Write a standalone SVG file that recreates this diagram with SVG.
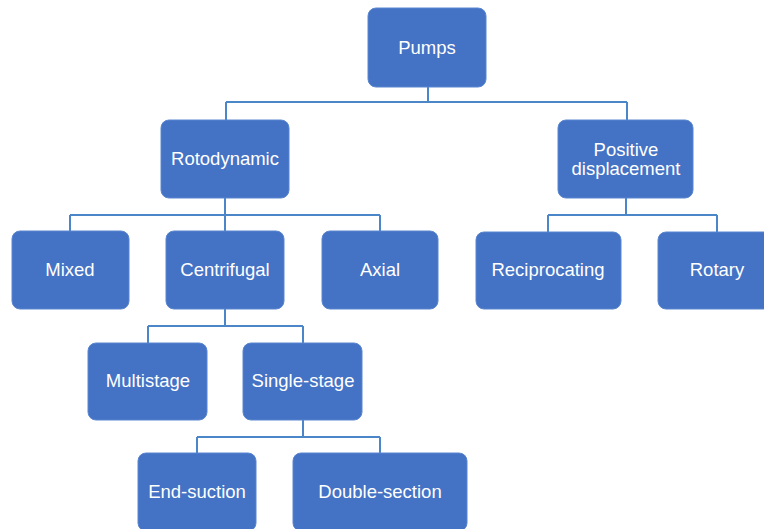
<svg xmlns="http://www.w3.org/2000/svg" width="764" height="529" viewBox="0 0 764 529">
<style>
.n rect{fill:#4472C4;stroke:#5a86d0;stroke-width:1}
.n text{fill:#ffffff;font-family:"Liberation Sans",Arial,sans-serif;font-size:18.5px;text-anchor:middle;dominant-baseline:central}
.c path{fill:none;stroke:#4A86C8;stroke-width:2}
</style>
<rect width="764" height="529" fill="#ffffff"/>
<g class="c" id="connectors">
<path d="M428 87V102M226 102H627M226 102V120M627 102V120"/>
<path d="M225 198V215M70 215H380M70 215V231M225 215V231M380 215V231"/>
<path d="M626 198V215M548 215H717M548 215V232M717 215V232"/>
<path d="M225 309V326M148 326H303M148 326V343M303 326V343"/>
<path d="M303 420V437M197 437H380M197 437V453M380 437V453"/>
</g>
<g class="n" id="pumps"><rect x="368" y="8" width="118" height="79" rx="8"/><text x="427" y="47">Pumps</text></g>
<g class="n" id="rotodynamic"><rect x="161" y="120" width="128" height="78" rx="8"/><text x="225" y="158">Rotodynamic</text></g>
<g class="n" id="positive"><rect x="558" y="120" width="135" height="78" rx="8"/><text x="626" y="149">Positive</text><text x="626" y="168">displacement</text></g>
<g class="n" id="mixed"><rect x="12" y="231" width="117" height="78" rx="8"/><text x="70" y="269">Mixed</text></g>
<g class="n" id="centrifugal"><rect x="166" y="231" width="118" height="78" rx="8"/><text x="225" y="269">Centrifugal</text></g>
<g class="n" id="axial"><rect x="322" y="231" width="116" height="78" rx="8"/><text x="380" y="269">Axial</text></g>
<g class="n" id="reciprocating"><rect x="476" y="232" width="145" height="77" rx="8"/><text x="548" y="269">Reciprocating</text></g>
<g class="n" id="rotary"><rect x="658" y="232" width="118" height="77" rx="8"/><text x="717" y="269">Rotary</text></g>
<g class="n" id="multistage"><rect x="88" y="343" width="119" height="77" rx="8"/><text x="148" y="380">Multistage</text></g>
<g class="n" id="singlestage"><rect x="243" y="343" width="119" height="77" rx="8"/><text x="303" y="380">Single-stage</text></g>
<g class="n" id="endsuction"><rect x="138" y="453" width="118" height="78" rx="8"/><text x="197" y="491">End-suction</text></g>
<g class="n" id="doublesection"><rect x="293" y="453" width="174" height="78" rx="8"/><text x="380" y="491">Double-section</text></g>
</svg>
